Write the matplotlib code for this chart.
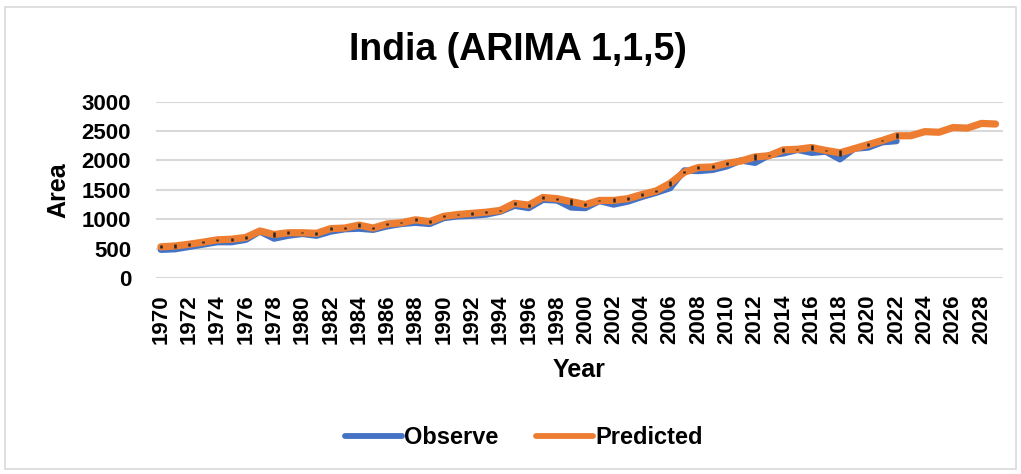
import numpy as np
import matplotlib
matplotlib.use("Agg")
import matplotlib.pyplot as plt
from matplotlib.patches import Rectangle

plt.rcParams['font.family'] = ['Liberation Sans', 'DejaVu Sans']
plt.rcParams['font.weight'] = 'bold'

years_obs = list(range(1970, 2023))
observed = [480, 490, 530, 570, 610, 610, 650, 790, 670, 720,
            750, 720, 790, 830, 840, 820, 880, 920, 940, 920,
            1020, 1050, 1060, 1080, 1130, 1230, 1190, 1330, 1320, 1200,
            1190, 1310, 1250, 1300, 1380, 1450, 1530, 1830, 1820, 1840,
            1900, 2000, 1960, 2090, 2120, 2180, 2130, 2150, 2020, 2200,
            2220, 2310, 2330]

years_pred = list(range(1970, 2030))
predicted = [530, 545, 575, 610, 650, 660, 690, 800, 740, 770,
             770, 760, 840, 850, 900, 850, 920, 940, 990, 960,
             1050, 1080, 1100, 1120, 1150, 1270, 1240, 1370, 1350, 1300,
             1250, 1320, 1320, 1350, 1420, 1480, 1610, 1800, 1880, 1890,
             1950, 1990, 2060, 2080, 2180, 2190, 2220, 2170, 2130, 2200,
             2270, 2340, 2420, 2420, 2490, 2480, 2560, 2550, 2630, 2620]

fig = plt.figure(figsize=(10.21, 4.74), dpi=100)
ax = fig.add_axes([0.153, 0.4135, 0.829, 0.372])

ax.plot(years_obs, observed, color='#4472C4', lw=4.6, solid_capstyle='round',
        solid_joinstyle='round', label='Observe', zorder=3)
ax.plot(years_pred, predicted, color='#ED7D31', lw=5.2, solid_capstyle='round',
        solid_joinstyle='round', label='Predicted', zorder=4)

# small black error marks where both series exist
diff = np.abs(np.array(observed) - np.array(predicted[:len(observed)])) / 2.0
ax.errorbar(years_obs, predicted[:len(observed)], yerr=diff, fmt='none',
            ecolor='#262626', elinewidth=1.8, capsize=0, zorder=5)

ax.set_xlim(1969.67, 2029.5)
ax.set_ylim(0, 3000)
ax.set_yticks(range(0, 3001, 500))
ax.set_xticks(range(1970, 2029, 2))
ax.tick_params(axis='x', labelrotation=90, labelsize=16, length=0, pad=12)
ax.tick_params(axis='y', labelsize=16, length=0, pad=18)
for lbl in ax.get_xticklabels() + ax.get_yticklabels():
    lbl.set_fontweight('bold')

ax.grid(axis='y', color='#D9D9D9', lw=1.5)
ax.set_axisbelow(True)
for s in ax.spines.values():
    s.set_visible(False)

ax.set_xlabel('Year', fontsize=18, fontweight='bold', labelpad=10)
ax.set_ylabel('Area', fontsize=18, fontweight='bold', labelpad=8)
fig.text(0.507, 0.895, 'India (ARIMA 1,1,5)', ha='center', va='center',
         fontsize=27, fontweight='bold')

fig.legend(loc='center', bbox_to_anchor=(0.513, 0.077), ncol=2, frameon=False,
           prop={'weight': 'bold', 'size': 17}, handlelength=2.4,
           columnspacing=1.6, handletextpad=0.1)
for h in fig.legends[0].get_lines():
    h.set_linewidth(4.2)

fig.add_artist(Rectangle((0.005, 0.01), 0.99, 0.975, transform=fig.transFigure,
                         fill=False, edgecolor='#D9D9D9', lw=1.2))

fig.savefig('out.png', dpi=100)
